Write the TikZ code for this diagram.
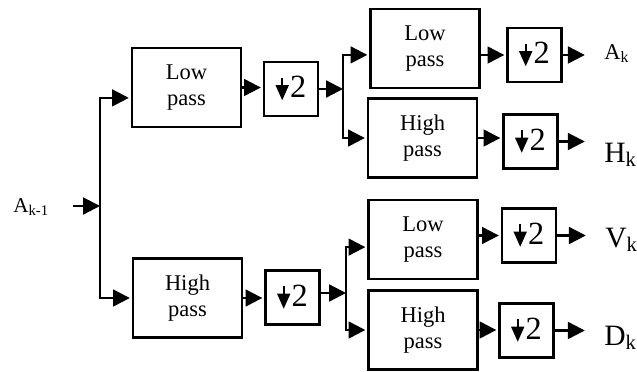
\documentclass[tikz,border=0pt]{standalone}
\usepackage{fontspec}
\setmainfont{Liberation Serif}
\usetikzlibrary{arrows.meta,calc}
\newcommand{\halve}{\tikz[baseline=0pt]\draw[line width=1.6pt,-{Triangle[length=0.38cm,width=0.32cm]}] (0,0.5cm) -- (0,-0.06cm);\hspace{1pt}2}
\tikzset{
  filterbox/.style={draw, line width=1.5pt, minimum width=2.725cm, minimum height=1.975cm, align=center, font=\fontsize{16}{19}\selectfont},
  halvebox/.style={draw, line width=1.5pt, minimum size=1.35cm, inner sep=0pt, font=\fontsize{23}{24}\selectfont},
  sigarrow/.style={-{Triangle[length=0.42cm,width=0.42cm]}, line width=1.6pt, shorten >=1.5pt},
  siglabel/.style={anchor=base west, inner sep=0pt, font=\fontsize{21}{22}\selectfont}
}
\begin{document}
\begin{tikzpicture}[x=0.025cm, y=-0.025cm]
\useasboundingbox (0,0) rectangle (637,371);
% first level
\node[filterbox] (lp1) at (186.5,87.5) {Low\\pass};
\node[filterbox] (hp1) at (187.5,298) {High\\pass};
\node[halvebox] (dn1) at (291,89) {\halve};
\node[halvebox] (dn2) at (292.5,297.5) {\halve};
% second level
\node[filterbox] (lp2) at (425,48.5) {Low\\pass};
\node[filterbox] (hp2) at (422.5,138) {High\\pass};
\node[filterbox] (lp3) at (423,239.5) {Low\\pass};
\node[filterbox] (hp3) at (423,330) {High\\pass};
\node[halvebox] (dn3) at (534.5,55) {\halve};
\node[halvebox] (dn4) at (530.5,141.5) {\halve};
\node[halvebox] (dn5) at (529,235.5) {\halve};
\node[halvebox] (dn6) at (526.5,330.5) {\halve};
% signals
\node[siglabel, font=\fontsize{15}{17}\selectfont] (ain) at (13,212) {A\textsubscript{k-1}};
\node[siglabel, font=\fontsize{16}{18}\selectfont] (ak) at (604,59) {A\textsubscript{k}};
\node[siglabel] (hk) at (604,162) {H\textsubscript{k}};
\node[siglabel] (vk) at (605,247) {V\textsubscript{k}};
\node[siglabel] (dk) at (604,345) {D\textsubscript{k}};
\coordinate (s1) at (100,206);
\coordinate (s2) at (343,89);
\coordinate (s3) at (346,293);
% connections
\draw[sigarrow, shorten <=0.6cm, shorten >=0pt] (ain.east |- s1) -- (s1);
\draw[sigarrow] (s1) |- ([yshift=-0.26cm]lp1.west);
\draw[sigarrow] (s1) |- (hp1.west);
\draw[sigarrow] (lp1.east) -- (lp1.east -| dn1.west);
\draw[sigarrow] (hp1.east) -- (hp1.east -| dn2.west);
\draw[sigarrow, shorten >=0pt] (dn1.east) -- (s2);
\draw[sigarrow, shorten >=0pt] (dn2.east |- s3) -- (s3);
\draw[sigarrow] (s2) |- ([yshift=-0.16cm]lp2.west);
\draw[sigarrow] (s2) |- (hp2.west);
\draw[sigarrow] (s3) |- ([yshift=-0.19cm]lp3.west);
\draw[sigarrow] (s3) |- (hp3.west);
\draw[sigarrow] (lp2.east |- dn3.west) -- (dn3.west);
\draw[sigarrow] (hp2.east) -- (hp2.east -| dn4.west);
\draw[sigarrow] (lp3.east |- dn5.west) -- (dn5.west);
\draw[sigarrow] (hp3.east) -- (hp3.east -| dn6.west);
\draw[sigarrow, shorten >=0.48cm] (dn3.east) -- (dn3.east -| ak.west);
\draw[sigarrow, shorten >=0.48cm] (dn4.east) -- (dn4.east -| hk.west);
\draw[sigarrow, shorten >=0.48cm] (dn5.east) -- (dn5.east -| vk.west);
\draw[sigarrow, shorten >=0.48cm] (dn6.east) -- (dn6.east -| dk.west);
\end{tikzpicture}
\end{document}
